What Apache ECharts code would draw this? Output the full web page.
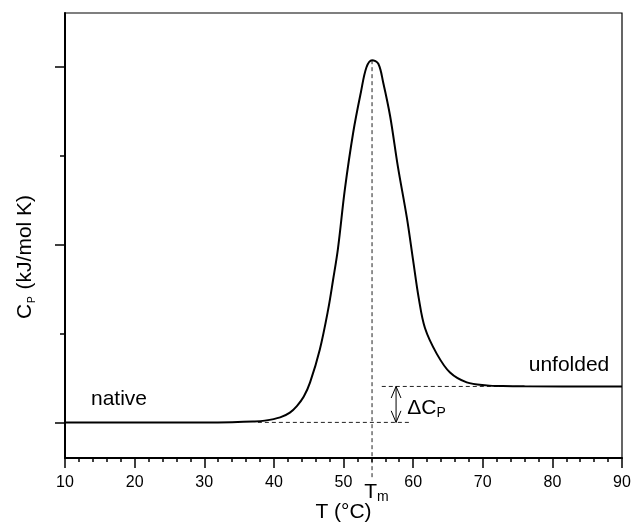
<!DOCTYPE html>
<html>
<head>
<meta charset="utf-8">
<script src="https://cdn.jsdelivr.net/npm/echarts@6/dist/echarts.min.js"></script>
<style>
html, body { margin: 0; padding: 0; background: #fff; }
#chart { width: 632px; height: 525px; }
</style>
</head>
<body>
<div id="chart"></div>
<script>
// 温度 (°C)
var temps = [10, 30, 34, 37, 38.7, 40.9, 42.3, 43.3, 44.3, 45.2, 46.6, 47.8, 48.5, 49.2, 50.2, 51.4, 52.5, 53.3, 54.1,
             55.0, 55.7, 56.7, 57.8, 59.1, 60.0, 60.8, 61.7, 63.4, 65.3, 67.7, 70.6, 72.9, 76, 90];
// 热容 Cp
var cp = [0, 0, 0.003, 0.01, 0.02, 0.056, 0.11, 0.183, 0.29, 0.449, 0.82, 1.27, 1.6, 1.95, 2.62, 3.26, 3.71, 3.99, 4.07,
          4.03, 3.82, 3.44, 2.88, 2.3, 1.82, 1.4, 1.06, 0.77, 0.56, 0.45, 0.416, 0.408, 0.405, 0.404];

var xTicks = [10, 20, 30, 40, 50, 60, 70, 80, 90];
var yMajorTicks = [0, 2, 4];
var yMinorTicks = [1, 3];

var tm = 54.1;              // Tm
var nativeBase = 0;         // 天然态基线
var unfoldedBase = 0.404;   // 去折叠态基线
var arrowX = 57.55;         // ΔCp 箭头位置

var FONT = "'Liberation Sans', Arial, sans-serif";

var chart = echarts.init(document.getElementById('chart'));

var peak = Math.max.apply(null, cp);

var dashStyle = { color: '#222', width: 1, type: [4, 3] };

function seg(data, style) {
    return {
        type: 'line',
        data: data,
        symbol: 'none',
        silent: true,
        clip: false,
        lineStyle: style,
        z: 1
    };
}

var subRich = {
    m: { fontSize: 21, fontFamily: FONT, lineHeight: 24, color: '#000' },
    s: { fontSize: 14, fontFamily: FONT, lineHeight: 14, padding: [12, 0, 0, 0], verticalAlign: 'bottom', color: '#000' }
};

var option = {
    animation: false,
    backgroundColor: '#fff',
    grid: {
        left: 65,
        right: 10,
        top: 13,
        bottom: 67,
        outerBoundsMode: 'none',
        containLabel: false,
        show: true,
        borderColor: '#000',
        borderWidth: 1.2
    },
    xAxis: {
        type: 'value',
        min: xTicks[0],
        max: xTicks[xTicks.length - 1],
        interval: 10,
        name: 'T (°C)',
        nameLocation: 'middle',
        nameGap: 44,
        nameTextStyle: { color: '#000', fontSize: 21, fontFamily: FONT },
        axisLine: { onZero: false, lineStyle: { color: '#000', width: 2 } },
        axisTick: { length: 10, lineStyle: { color: '#000', width: 1.5 } },
        minorTick: { show: true, splitNumber: 5, length: 4, lineStyle: { color: '#000', width: 1.5 } },
        axisLabel: { color: '#000', fontSize: 16, fontFamily: FONT, margin: 17 },
        splitLine: { show: false }
    },
    yAxis: [{
        type: 'value',
        min: -0.4,
        max: 4.6,
        axisLine: { show: true, onZero: false, lineStyle: { color: '#000', width: 2 } },
        axisTick: { show: true, length: 10, customValues: yMajorTicks, lineStyle: { color: '#000', width: 1.5 } },
        axisLabel: { show: false },
        splitLine: { show: false }
    }, {
        type: 'value',
        min: -0.4,
        max: 4.6,
        position: 'left',
        axisLine: { show: false, onZero: false },
        axisTick: { show: true, length: 5, customValues: yMinorTicks, lineStyle: { color: '#000', width: 1.5 } },
        axisLabel: { show: false },
        splitLine: { show: false }
    }],
    graphic: [{
        type: 'text',
        x: 25,
        y: 257,
        rotation: Math.PI / 2,
        style: {
            text: '{m|C}{s|P}{m| (kJ/mol K)}',
            align: 'center',
            verticalAlign: 'middle',
            fill: '#000',
            rich: {
                m: { fontSize: 21, fontFamily: FONT, lineHeight: 24, fill: '#000' },
                s: { fontSize: 10, fontFamily: FONT, lineHeight: 10, padding: [16, 1, 0, 1], verticalAlign: 'bottom', fill: '#000' }
            }
        }
    }],
    series: [
        // Tm 竖虚线
        seg([[tm, peak], [tm, -0.64]], dashStyle),
        // 基线虚线
        seg([[37.7, nativeBase], [59.7, nativeBase]], dashStyle),
        seg([[55.5, unfoldedBase], [77, unfoldedBase]], dashStyle),
        // ΔCp 箭头
        seg([[arrowX, unfoldedBase], [arrowX, nativeBase]], { color: '#000', width: 1 }),
        seg([[arrowX - 0.7, unfoldedBase - 0.13], [arrowX, unfoldedBase], [arrowX + 0.7, unfoldedBase - 0.13]], { color: '#000', width: 1 }),
        seg([[arrowX - 0.7, nativeBase + 0.13], [arrowX, nativeBase], [arrowX + 0.7, nativeBase + 0.13]], { color: '#000', width: 1 }),
        {
            type: 'line',
            data: temps.map(function (t, i) { return [t, cp[i]]; }),
            symbol: 'none',
            smooth: 0.35,
            lineStyle: { color: '#000', width: 2 },
            z: 3
        },
        {
            type: 'scatter',
            symbolSize: 0,
            clip: false,
            silent: true,
            itemStyle: { opacity: 1 },
            label: {
                show: true,
                position: 'inside',
                color: '#000',
                fontSize: 21,
                fontFamily: FONT
            },
            data: [
                { value: [17.76, 0.258], label: { formatter: 'native' } },
                { value: [82.39, 0.64], label: { formatter: 'unfolded' } },
                { value: [61.93, 0.16], label: { formatter: '{m|ΔC}{s|P}', rich: subRich } },
                { value: [54.74, -0.78], label: { formatter: '{m|T}{s|m}', rich: subRich } }
            ],
            z: 4
        }
    ]
};

chart.setOption(option);
</script>
</body>
</html>
